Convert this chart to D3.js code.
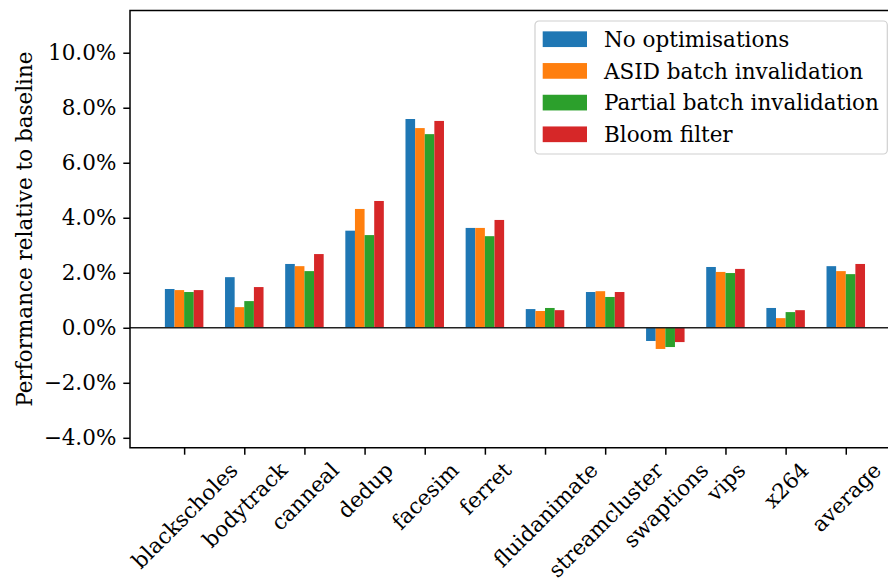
<!DOCTYPE html>
<html>
<head>
<meta charset="utf-8">
<script src="https://cdn.jsdelivr.net/npm/d3@7"></script>
<style>
  body { margin: 0; background: #fff; }
  svg { display: block; font-family: "DejaVu Serif", serif; }
</style>
</head>
<body>
<div id="chart"></div>
<script>
// benchmarks along the x axis
const benchmarks = ["blackscholes", "bodytrack", "canneal", "dedup", "facesim", "ferret",
  "fluidanimate", "streamcluster", "swaptions", "vips", "x264", "average"];

// series names (legend order)
const seriesNames = ["No optimisations", "ASID batch invalidation",
  "Partial batch invalidation", "Bloom filter"];

// values in percent
const noOpt   = [1.41, 1.84, 2.32, 3.53, 7.59, 3.63, 0.68, 1.30, -0.48, 2.21, 0.72, 2.24];
const asid    = [1.37, 0.75, 2.24, 4.32, 7.26, 3.63, 0.61, 1.33, -0.77, 2.03, 0.35, 2.06];
const partial = [1.30, 0.97, 2.06, 3.37, 7.04, 3.33, 0.72, 1.12, -0.70, 1.99, 0.57, 1.95];
const bloom   = [1.37, 1.48, 2.68, 4.61, 7.52, 3.92, 0.64, 1.30, -0.52, 2.14, 0.64, 2.32];

const yTicks = [-4, -2, 0, 2, 4, 6, 8, 10];

const seriesValues = [noOpt, asid, partial, bloom];
const colors = ["#1f77b4", "#ff7f0e", "#2ca02c", "#d62728"];

const renderChart = () => {
  const W = 888, H = 581;
  const fontSize = 21.5;
  // axes box (right side runs off the figure, like the original)
  const plot = { left: 130, top: 10.5, bottom: 447.7 };
  const barWidth = 0.16;

  const svg = d3.select("#chart").append("svg")
    .attr("width", W).attr("height", H);

  const x = d3.scaleLinear().domain([-0.9, 11.9]).range([plot.left, 899.9]);
  const y = d3.scaleLinear().domain([-4.36, 11.535]).range([plot.bottom, plot.top]);

  // bars
  seriesValues.forEach((vals, si) => {
    svg.append("g")
      .selectAll("rect")
      .data(vals)
      .join("rect")
      .attr("x", (d, i) => x(i + (si - 2) * barWidth))
      .attr("width", x(barWidth) - x(0))
      .attr("y", (d) => y(Math.max(0, d)))
      .attr("height", (d) => Math.abs(y(d) - y(0)))
      .attr("fill", colors[si]);
  });

  // zero line
  svg.append("line")
    .attr("x1", plot.left).attr("x2", W)
    .attr("y1", y(0)).attr("y2", y(0))
    .attr("stroke", "#222").attr("stroke-width", 1.6);

  // y axis
  const yAxis = svg.append("g")
    .attr("transform", `translate(${plot.left},0)`)
    .call(d3.axisLeft(y).tickValues(yTicks).tickSize(6.7).tickPadding(7)
      .tickFormat((d) => (d < 0 ? "\u2212" : "") + Math.abs(d).toFixed(1) + "%"));
  yAxis.select(".domain").remove();
  yAxis.selectAll(".tick line").attr("stroke", "#000").attr("stroke-width", 1.5);
  yAxis.selectAll(".tick text")
    .attr("font-size", fontSize).attr("font-family", "DejaVu Serif").attr("fill", "#000");

  // x axis
  const xAxis = svg.append("g")
    .attr("transform", `translate(0,${plot.bottom})`)
    .call(d3.axisBottom(x).tickValues(d3.range(benchmarks.length)).tickSize(7)
      .tickFormat((i) => benchmarks[i]));
  xAxis.select(".domain").remove();
  xAxis.selectAll(".tick line").attr("stroke", "#000").attr("stroke-width", 1.5);
  xAxis.selectAll(".tick text")
    .attr("font-size", fontSize).attr("font-family", "DejaVu Serif").attr("fill", "#000")
    .attr("text-anchor", "middle")
    .attr("dy", "0.35em")
    .each(function () {
      // matplotlib-style: rotate 45 deg, centre the rotated box under the tick
      const w = this.getComputedTextLength();
      const h = fontSize * 1.0;
      const cy = 11 + (w + h) / (2 * Math.SQRT2);
      d3.select(this).attr("y", 0)
        .attr("transform", `translate(0,${cy}) rotate(-45)`);
    });

  // spines: left, top, bottom
  const spine = svg.append("g").attr("stroke", "#000").attr("stroke-width", 1.5)
    .attr("fill", "none");
  spine.append("path")
    .attr("d", `M${W + 5},${plot.top}H${plot.left}V${plot.bottom}H${W + 5}`);

  // y label
  svg.append("text")
    .attr("transform", `translate(32,${(plot.top + plot.bottom) / 2}) rotate(-90)`)
    .attr("text-anchor", "middle")
    .attr("font-size", fontSize)
    .attr("fill", "#000")
    .text("Performance relative to baseline");

  // legend
  const lg = svg.append("g").attr("transform", "translate(535,21)");
  lg.append("rect")
    .attr("width", 352.3).attr("height", 133)
    .attr("rx", 4).attr("ry", 4)
    .attr("fill", "#fff").attr("fill-opacity", 0.8)
    .attr("stroke", "#d0d0d0").attr("stroke-width", 1.2);
  const rowH = 31.7;
  const item = lg.selectAll("g.item")
    .data(seriesNames)
    .join("g")
    .attr("class", "item")
    .attr("transform", (d, i) => `translate(0,${18.2 + i * rowH})`);
  item.append("rect")
    .attr("x", 7.7).attr("y", -7.85)
    .attr("width", 44.3).attr("height", 15.7)
    .attr("fill", (d, i) => colors[i]);
  item.append("text")
    .attr("x", 69).attr("y", 7.8)
    .attr("font-size", fontSize)
    .attr("fill", "#000")
    .text((d) => d);
};

renderChart();
</script>
</body>
</html>
